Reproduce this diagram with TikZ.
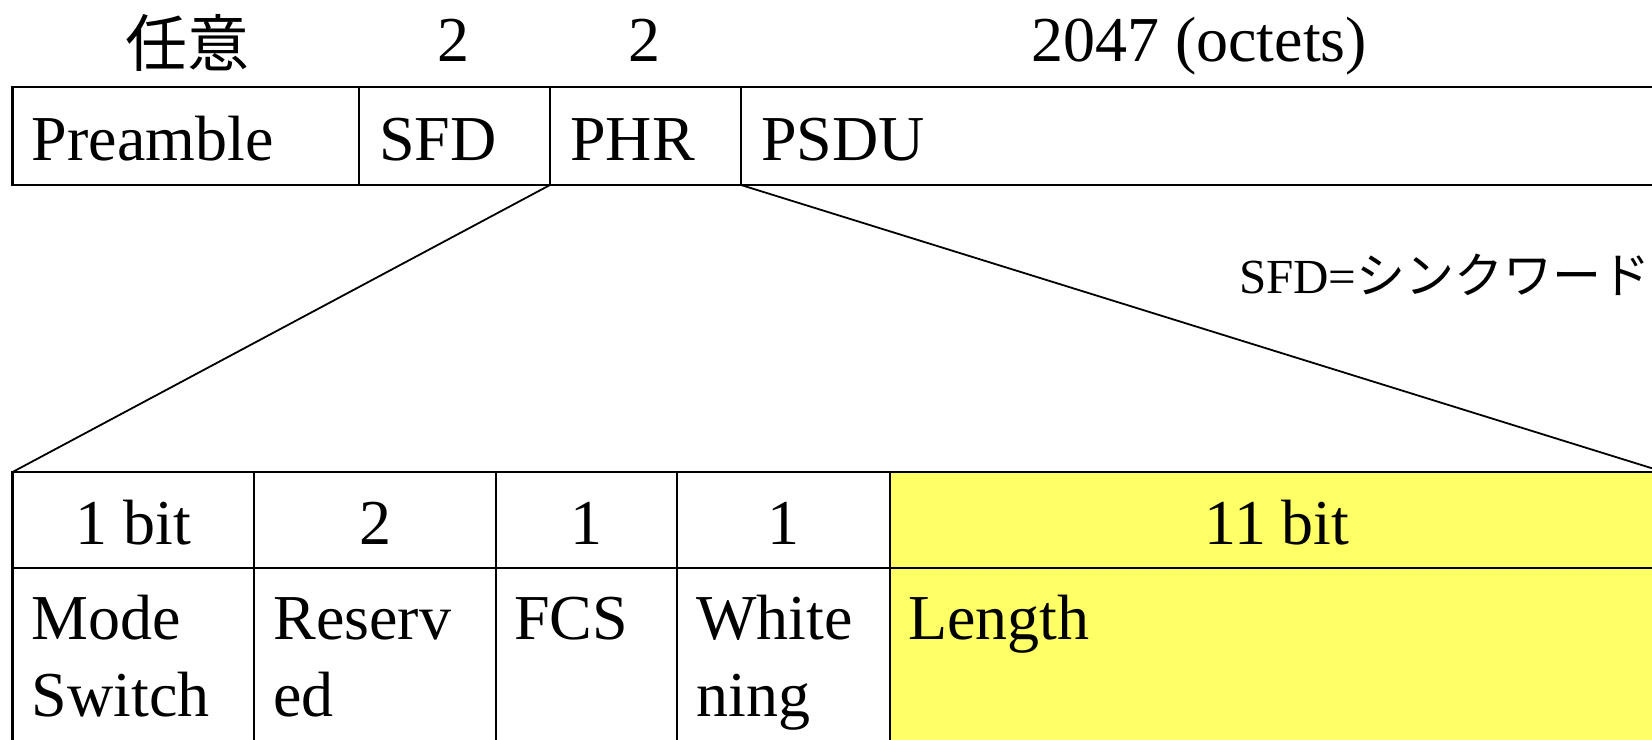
\documentclass[tikz,border=0pt]{standalone}
\usepackage{fontspec}
\setmainfont{Liberation Serif}
\newfontfamily\jp{Noto Sans CJK JP}
\usetikzlibrary{calc}
\begin{document}
\begin{tikzpicture}[x=0.5pt,y=-0.5pt,
  cell/.style={draw=black,line width=1.4pt,rectangle,inner sep=0pt,outer sep=0pt,anchor=north west},
  hilite/.style={cell,fill=yellow60},
  lbl/.style={inner sep=0pt,anchor=base west,align=left,
    font=\fontsize{32}{38.5}\selectfont},
  num/.style={inner sep=0pt,anchor=base,font=\fontsize{32}{38.5}\selectfont},
  link/.style={draw=black,line width=0.9pt}]
\definecolor{yellow60}{RGB}{255,255,102}
\useasboundingbox (0,0) rectangle (1652,739);
\clip (0,0) rectangle (1652,739);

% frame sizes above the header
\node[anchor=center,inner sep=0pt,font=\jp\fontsize{31}{33}\selectfont] (szpre) at (187.5,43) {任意};
\node[num] (szsfd) at (453,61) {2};
\node[num] (szphr) at (644,61) {2};
\node[num] (szpsdu) at (1199,61) {2047 (octets)};

% PPDU fields
\node[cell,minimum width=173.2pt,minimum height=49pt] (pre) at (12.6,87) {};
\node[cell,minimum width=95.5pt,minimum height=49pt] (sfd) at (359,87) {};
\node[cell,minimum width=95.5pt,minimum height=49pt] (phr) at (550,87) {};
\node[cell,minimum width=461.5pt,minimum height=49pt] (psdu) at (741,87) {};
\node[lbl] (tpre) at ($(pre.north west)+(19,73)$) {Preamble};
\node[lbl] (tsfd) at ($(sfd.north west)+(20,73)$) {SFD};
\node[lbl] (tphr) at ($(phr.north west)+(20,73)$) {PHR};
\node[lbl] (tpsdu) at ($(psdu.north west)+(20,73)$) {PSDU};

\node[inner sep=0pt,anchor=base east,font=\fontsize{24.5}{26}\selectfont] (note) at (1651,293) {SFD={\jp シンクワード}};

% PHR breakdown: bit widths
\node[cell,minimum width=120.7pt,minimum height=48pt] (h1) at (12.6,472) {};
\node[cell,minimum width=121pt,minimum height=48pt] (h2) at (254,472) {};
\node[cell,minimum width=90.5pt,minimum height=48pt] (h3) at (496,472) {};
\node[cell,minimum width=106.5pt,minimum height=48pt] (h4) at (677,472) {};
\node[hilite,minimum width=387pt,minimum height=48pt] (h5) at (890,472) {};
% PHR breakdown: field names
\node[cell,minimum width=120.7pt,minimum height=116pt] (b1) at (12.6,568) {};
\node[cell,minimum width=121pt,minimum height=116pt] (b2) at (254,568) {};
\node[cell,minimum width=90.5pt,minimum height=116pt] (b3) at (496,568) {};
\node[cell,minimum width=106.5pt,minimum height=116pt] (b4) at (677,568) {};
\node[hilite,minimum width=387pt,minimum height=116pt] (b5) at (890,568) {};

\node[num] (n1) at ($(h1.north)+(0,72)$) {1 bit};
\node[num] (n2) at ($(h2.north)+(0,72)$) {2};
\node[num] (n3) at ($(h3.north)+(0,72)$) {1};
\node[num] (n4) at ($(h4.north)+(0,72)$) {1};
\node[num] (n5) at ($(h5.north)+(0,72)$) {11 bit};

% two-line labels sit on the baseline of their last line
\node[lbl] (f1) at ($(b1.north west)+(19,148)$) {Mode\\Switch};
\node[lbl] (f2) at ($(b2.north west)+(19,148)$) {Reserv\\ed};
\node[lbl] (f3) at ($(b3.north west)+(18,71)$) {FCS};
\node[lbl] (f4) at ($(b4.north west)+(19,148)$) {White\\ning};
\node[lbl] (f5) at ($(b5.north west)+(18,71)$) {Length};

% expansion lines from PHR
\draw[link] (phr.south west) -- (h1.north west);
\draw[link] (phr.south east) -- (h5.north east);
\end{tikzpicture}
\end{document}
